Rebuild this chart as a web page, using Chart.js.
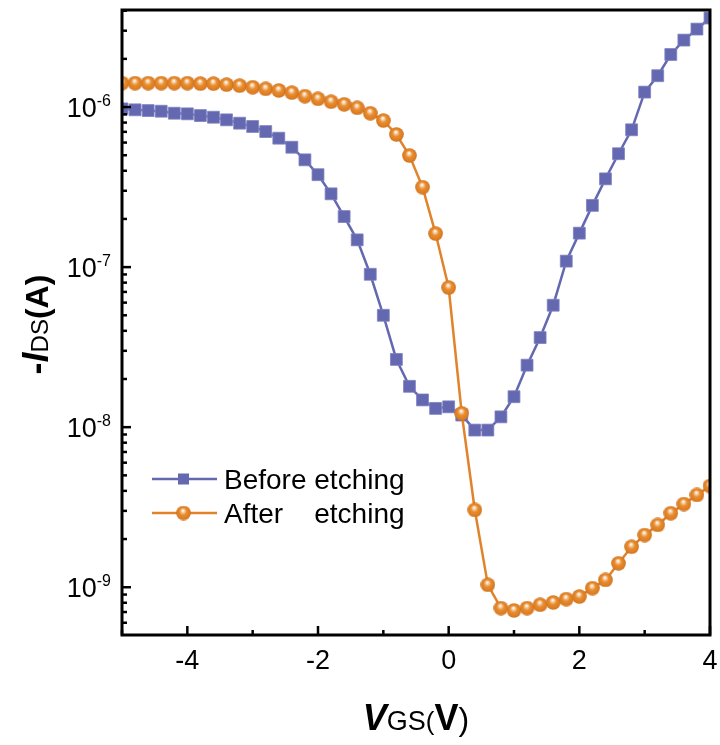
<!DOCTYPE html>
<html><head><meta charset="utf-8">
<script src="https://cdn.jsdelivr.net/npm/chart.js@4.4.0/dist/chart.umd.min.js"></script>
<style>html,body{margin:0;padding:0;background:#fff;}#wrap{width:720px;height:745px;}</style>
</head><body><div id="wrap"><canvas id="c" width="720" height="745"></canvas></div>
<script>
const vgs = [-5,-4.8,-4.6,-4.4,-4.2,-4,-3.8,-3.6,-3.4,-3.2,-3,-2.8,-2.6,-2.4,-2.2,-2,-1.8,-1.6,-1.4,-1.2,-1,-0.8,-0.6,-0.4,-0.2,0,0.2,0.4,0.6,0.8,1,1.2,1.4,1.6,1.8,2,2.2,2.4,2.6,2.8,3,3.2,3.4,3.6,3.8,4];
const beforeEtching = [9.74e-7,9.61e-7,9.51e-7,9.42e-7,9.15e-7,9.07e-7,8.85e-7,8.64e-7,8.32e-7,7.93e-7,
  7.56e-7,7.03e-7,6.39e-7,5.61e-7,4.68e-7,3.78e-7,2.87e-7,2.07e-7,1.48e-7,9.02e-8,
  5.00e-8,2.65e-8,1.80e-8,1.48e-8,1.31e-8,1.34e-8,1.19e-8,9.59e-9,9.59e-9,1.16e-8,
  1.55e-8,2.44e-8,3.63e-8,5.78e-8,1.09e-7,1.63e-7,2.43e-7,3.56e-7,5.11e-7,7.21e-7,
  1.24e-6,1.57e-6,2.13e-6,2.62e-6,3.07e-6,3.60e-6];
const afterEtching = [1.41e-6,1.41e-6,1.41e-6,1.41e-6,1.41e-6,1.41e-6,1.40e-6,1.40e-6,1.38e-6,1.36e-6,
  1.33e-6,1.30e-6,1.27e-6,1.23e-6,1.17e-6,1.125e-6,1.08e-6,1.04e-6,9.89e-7,9.15e-7,
  8.24e-7,6.74e-7,4.98e-7,3.16e-7,1.62e-7,7.45e-8,1.22e-8,3.04e-9,1.035e-9,7.41e-10,
  7.16e-10,7.41e-10,7.77e-10,8.03e-10,8.43e-10,8.75e-10,9.87e-10,1.11e-9,1.41e-9,1.79e-9,
  2.12e-9,2.45e-9,2.90e-9,3.31e-9,3.77e-9,4.29e-9];
const seriesLabels = ['Before etching','After    etching'];
const xMajorTicks = [-4,-2,0,2,4];
const xTickLabels = ['-4','-2','0','2','4'];
const xMinorTicks = [-5,-3,-1,1,3];
const yDecades = [-6,-7,-8,-9];
const yTickLabels = ['-6','-7','-8','-9'];
const xRange = [-5,4];
const yRange = [5.03e-10,4.04e-6];

const BLUE = '#6468b1', ORANGE = '#e0832b';
const FONT = '"Liberation Sans", Arial, sans-serif';

function sphere(d){
  const c = document.createElement('canvas'); c.width = c.height = d;
  const g = c.getContext('2d'); const r = d/2;
  const gr = g.createRadialGradient(r-0.6, r-2.6, 0.3, r, r, r);
  gr.addColorStop(0,'#ffffff'); gr.addColorStop(0.2,'#f6caa0');
  gr.addColorStop(0.45,'#e78e2e'); gr.addColorStop(0.85,'#dc7b22'); gr.addColorStop(1,'#c86c1a');
  g.fillStyle = gr; g.beginPath(); g.arc(r,r,r-0.2,0,Math.PI*2); g.fill();
  return c;
}
const ball = sphere(15);

function richText(ctx, parts, x, y, rot){
  ctx.save(); ctx.translate(x,y); if (rot) ctx.rotate(rot);
  let w = 0; parts.forEach(p=>{ctx.font=p.f; p.w=ctx.measureText(p.t).width; w+=p.w;});
  let cx = -w/2; ctx.textBaseline='alphabetic'; ctx.textAlign='left'; ctx.fillStyle='#000';
  parts.forEach(p=>{ctx.font=p.f; ctx.fillText(p.t, cx, 0); cx+=p.w;});
  ctx.restore();
}

const deco = {
  id:'deco',
  afterDraw(chart){
    const {ctx, chartArea:a, scales:{x,y}} = chart;
    ctx.save();
    ctx.strokeStyle='#000'; ctx.lineWidth=3;
    ctx.strokeRect(a.left, a.top, a.right-a.left, a.bottom-a.top);
    ctx.lineWidth=2.5;
    const seg=(x1,y1,x2,y2)=>{ctx.beginPath();ctx.moveTo(x1,y1);ctx.lineTo(x2,y2);ctx.stroke();};
    xMajorTicks.forEach(v=>{const p=x.getPixelForValue(v); seg(p,a.bottom,p,a.bottom-9);});
    xMinorTicks.forEach(v=>{const p=x.getPixelForValue(v); seg(p,a.bottom,p,a.bottom-5);});
    yDecades.forEach(d=>{const p=y.getPixelForValue(Math.pow(10,d)); seg(a.left,p,a.left+9,p);});
    for (let d=-10; d<=-6; d++){
      for (let m=2; m<=9; m++){
        const v = m*Math.pow(10,d);
        if (v>yRange[0] && v<yRange[1]){const p=y.getPixelForValue(v); seg(a.left,p,a.left+5,p);}
      }
    }
    ctx.fillStyle='#000';
    ctx.font='27px '+FONT; ctx.textAlign='center'; ctx.textBaseline='alphabetic';
    xMajorTicks.forEach((v,i)=>{ctx.fillText(xTickLabels[i], x.getPixelForValue(v), 669);});
    yDecades.forEach((d,i)=>{
      const p=y.getPixelForValue(Math.pow(10,d));
      ctx.font='16px '+FONT; const sw=ctx.measureText(yTickLabels[i]).width;
      const right=a.left-11;
      ctx.textAlign='left'; ctx.fillText(yTickLabels[i], right-sw, p-1);
      ctx.font='27px '+FONT; ctx.textAlign='right'; ctx.fillText('10', right-sw, p+10);
    });
    richText(ctx,[
      {t:'V',f:'italic bold 36px '+FONT},{t:'GS',f:'27px '+FONT},
      {t:'(',f:'26px '+FONT},{t:'V',f:'bold 36px '+FONT},{t:')',f:'32px '+FONT}
    ], (a.left+a.right)/2, 730, 0);
    richText(ctx,[
      {t:'-',f:'bold 36px '+FONT},{t:'I',f:'italic bold 36px '+FONT},{t:'DS',f:'24px '+FONT},
      {t:'(A)',f:'bold 32px '+FONT}
    ], 48, (a.top+a.bottom)/2 + 2, -Math.PI/2);
    const rows=[{y:479,c:BLUE,m:'sq'},{y:513,c:ORANGE,m:'ball'}];
    rows.forEach((r,i)=>{
      ctx.strokeStyle=r.c; ctx.lineWidth=2.5; seg(152,r.y,217,r.y);
      if (r.m==='sq'){ctx.fillStyle=BLUE; ctx.fillRect(178,r.y-5.5,11,11);}
      else ctx.drawImage(ball,183.5-7.5,r.y-7.5);
      ctx.fillStyle='#000'; ctx.font='28px '+FONT; ctx.textAlign='left'; ctx.textBaseline='alphabetic';
      ctx.fillText(seriesLabels[i], 224, r.y+10);
    });
    ctx.restore();
  }
};

new Chart(document.getElementById('c'), {
  type:'line',
  data:{datasets:[
    {label:seriesLabels[0], data:vgs.map((v,i)=>({x:v,y:beforeEtching[i]})), borderColor:BLUE, borderWidth:2.5,
     pointStyle:'rect', pointRadius:8.4, pointBackgroundColor:BLUE, pointBorderColor:'#7d81c0', pointBorderWidth:0.8,
     tension:0, clip:0, order:1},
    {label:seriesLabels[1], data:vgs.map((v,i)=>({x:v,y:afterEtching[i]})), borderColor:ORANGE, borderWidth:2.5,
     pointStyle:ball, pointRadius:7, tension:0, clip:0, order:0}
  ]},
  options:{
    responsive:false, animation:false, devicePixelRatio:1,
    layout:{padding:{top:10,right:10,left:0,bottom:0}},
    plugins:{legend:{display:false},tooltip:{enabled:false}},
    scales:{
      x:{type:'linear',min:xRange[0],max:xRange[1],grid:{display:false},border:{display:false},ticks:{display:false},
         afterFit(s){s.height=110;}},
      y:{type:'logarithmic',min:yRange[0],max:yRange[1],grid:{display:false},border:{display:false},ticks:{display:false},
         afterFit(s){s.width=122;}}
    }
  },
  plugins:[deco]
});
</script></body></html>
